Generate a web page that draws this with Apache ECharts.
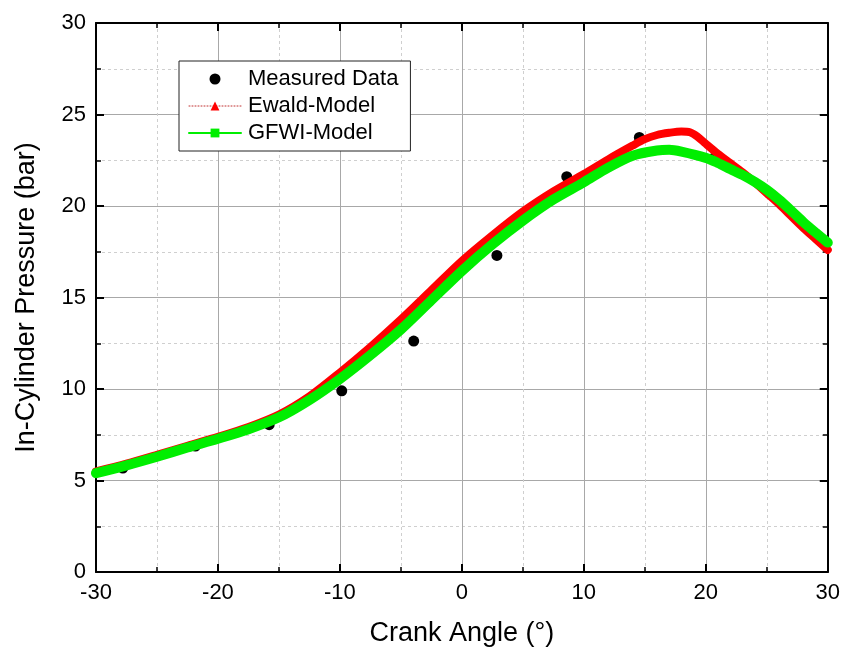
<!DOCTYPE html>
<html>
<head>
<meta charset="utf-8">
<script src="https://cdn.jsdelivr.net/npm/echarts@6/dist/echarts.min.js"></script>
<style>
  html, body { margin: 0; padding: 0; background: #fff; }
  #chart { width: 843px; height: 653px; }
</style>
</head>
<body>
<div id="chart"></div>
<script>
// Measured in-cylinder pressure samples
const measuredAngle = [-27.8, -21.85, -15.8, -9.85, -3.95, 2.87, 8.6, 14.55, 20.6];
const measuredPressure = [5.68, 6.88, 8.05, 9.9, 12.62, 17.3, 21.6, 23.75, 22.6];

// Ewald model pressure trace
const ewaldAngle = [-30, -27.5, -25, -22.5, -20, -17.5, -15, -12.5, -10, -7.5, -5, -2.5, 0, 2.5, 5, 7.5, 10, 12, 14, 15, 16, 17, 18, 18.7, 19.3, 20, 21, 22, 23, 24, 25, 26, 27, 28, 29, 30];
const ewaldPressure = [5.5, 5.92, 6.4, 6.9, 7.38, 7.92, 8.6, 9.6, 10.9, 12.3, 13.8, 15.4, 17.0, 18.4, 19.7, 20.8, 21.75, 22.55, 23.3, 23.65, 23.88, 24.0, 24.07, 24.03, 23.8, 23.4, 22.85, 22.35, 21.85, 21.3, 20.7, 20.1, 19.45, 18.8, 18.2, 17.6];

// GFWI model pressure trace
const gfwiAngle = [-30, -27.5, -25, -22.5, -20, -17.5, -15, -12.5, -10, -7.5, -5, -2.5, 0, 2.5, 5, 7.5, 10, 12, 14, 16, 17, 18, 20, 21, 22, 23, 24, 25, 26, 27, 28, 29, 30];
const gfwiPressure = [5.4, 5.83, 6.3, 6.8, 7.28, 7.8, 8.45, 9.4, 10.55, 11.85, 13.25, 14.85, 16.45, 17.9, 19.2, 20.35, 21.3, 22.1, 22.75, 23.03, 23.07, 22.97, 22.63, 22.35, 22.02, 21.7, 21.32, 20.88, 20.35, 19.75, 19.12, 18.55, 18.0];

// Axis ranges and tick spacing
const xRange = [-30, 30], xStep = 10;
const yRange = [0, 30], yStep = 5;

const pairs = (xs, ys) => xs.map((x, i) => [x, ys[i]]);
const FONT = 'Liberation Sans, Arial, sans-serif';

const majorGrid = { show: true, lineStyle: { color: '#a8a8a8', width: 1 } };
const minorGrid = { show: true, lineStyle: { color: '#cfcfcf', width: 1, type: [3, 3] } };
const tick = { show: true, inside: true, length: 8, lineStyle: { color: '#000', width: 2 } };
const minorTick = { show: true, splitNumber: 2, length: 5, lineStyle: { color: '#000', width: 1.5 } };
const axisLine = { show: true, onZero: false, lineStyle: { color: '#000', width: 2 } };

function xAxisDef(position, main) {
  return {
    type: 'value', position, min: xRange[0], max: xRange[1], interval: xStep,
    axisLine, axisTick: tick, minorTick,
    splitLine: main ? majorGrid : { show: false },
    minorSplitLine: main ? minorGrid : { show: false },
    axisLabel: main ? { show: true, color: '#000', fontSize: 22, fontFamily: FONT, margin: 10 } : { show: false },
    name: main ? 'Crank Angle (°)' : '',
    nameLocation: 'middle', nameGap: 48,
    nameTextStyle: { color: '#000', fontSize: 27, fontFamily: FONT }
  };
}
function yAxisDef(position, main) {
  return {
    type: 'value', position, min: yRange[0], max: yRange[1], interval: yStep,
    axisLine, axisTick: tick, minorTick,
    splitLine: main ? majorGrid : { show: false },
    minorSplitLine: main ? minorGrid : { show: false },
    axisLabel: main ? { show: true, color: '#000', fontSize: 22, fontFamily: FONT, margin: 10 } : { show: false },
    name: main ? 'In-Cylinder Pressure (bar)' : '',
    nameLocation: 'middle', nameGap: 56,
    nameTextStyle: { color: '#000', fontSize: 27, fontFamily: FONT }
  };
}

const chart = echarts.init(document.getElementById('chart'), null, { renderer: 'canvas' });
chart.setOption({
  animation: false,
  backgroundColor: '#fff',
  grid: { left: 96, right: 13, top: 23, bottom: 81, containLabel: false },
  xAxis: [xAxisDef('bottom', true), xAxisDef('top', false)],
  yAxis: [yAxisDef('left', true), yAxisDef('right', false)],
  legend: {
    orient: 'vertical', left: 179, top: 61,
    padding: [7, 12, 7, 9], itemGap: 5,
    itemWidth: 52, itemHeight: 11,
    backgroundColor: '#fff', borderColor: '#222', borderWidth: 1,
    textStyle: { color: '#000', fontSize: 22, fontFamily: FONT, padding: [0, 0, 0, 2] },
    data: [
      { name: 'Measured Data', itemStyle: { color: '#000', opacity: 1 } },
      { name: 'Ewald-Model', itemStyle: { color: '#ff0000' },
        lineStyle: { color: '#c03030', width: 1, type: [1, 2] } },
      { name: 'GFWI-Model', itemStyle: { color: '#00ee00' },
        lineStyle: { color: '#00ee00', width: 2, type: 'solid' } }
    ]
  },
  series: [
    {
      name: 'Measured Data', type: 'scatter', xAxisIndex: 0, yAxisIndex: 0,
      data: pairs(measuredAngle, measuredPressure),
      symbol: 'circle', symbolSize: 11, itemStyle: { color: '#000', opacity: 1 }, z: 2
    },
    {
      name: 'Ewald-Model', type: 'line', xAxisIndex: 0, yAxisIndex: 0,
      data: pairs(ewaldAngle, ewaldPressure),
      showSymbol: false, symbol: 'triangle', symbolSize: 9, smooth: 0.3,
      lineStyle: { color: '#ff0000', width: 8, cap: 'round', join: 'round' },
      itemStyle: { color: '#ff0000' }, z: 3
    },
    {
      name: 'GFWI-Model', type: 'line', xAxisIndex: 0, yAxisIndex: 0,
      data: pairs(gfwiAngle, gfwiPressure),
      showSymbol: false, symbol: 'rect', symbolSize: 8, smooth: 0.3,
      lineStyle: { color: '#00ee00', width: 10, cap: 'round', join: 'round' },
      itemStyle: { color: '#00ee00' }, z: 4
    }
  ]
});
</script>
</body>
</html>
